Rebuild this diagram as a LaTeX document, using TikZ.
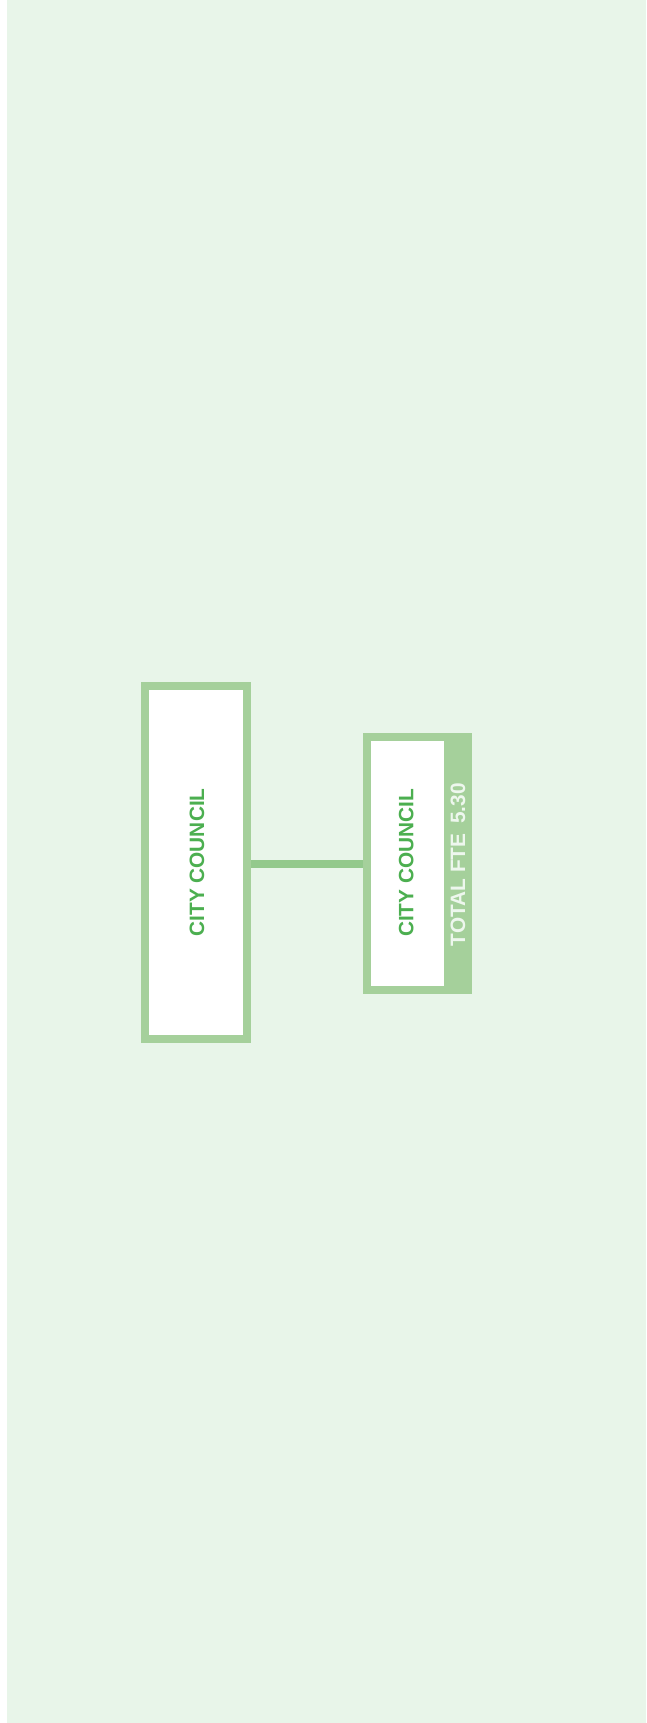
\documentclass[tikz,border=0pt]{standalone}
\usepackage{fontspec}
\setmainfont{Liberation Sans}
\definecolor{bgc}{HTML}{E8F5E9}
\definecolor{bord}{HTML}{A5D09B}
\definecolor{conn}{HTML}{93C98C}
\definecolor{txt}{HTML}{4CAF50}
\definecolor{fte}{HTML}{EEF7EE}
\begin{document}
\begin{tikzpicture}[x=1pt,y=-1pt,
  orgbox/.style={draw=bord,line width=8pt,fill=white,inner sep=0pt,rotate=90},
  lbl/.style={text=txt,font=\fontsize{20.8}{24}\selectfont\bfseries,rotate=90,inner sep=0pt},
  ftelbl/.style={text=fte,font=\fontsize{20.8}{24}\selectfont\bfseries,rotate=90,inner sep=0pt},
  link/.style={draw=conn,line width=7.7pt}]
\useasboundingbox (0,0) rectangle (646,1723);
\fill[white] (0,0) rectangle (646,1723);
\fill[bgc] (7,0) rectangle (646,1723);
% box 1
\node[orgbox,minimum width=352.7pt,minimum height=101.7pt] (b1) at (195.8,862.4) {};
\node[lbl] (t1) at (197,862.4) {CITY COUNCIL};
% box 2
\node[orgbox,minimum width=252.7pt,minimum height=101.7pt] (b2) at (417.5,863.7) {};
\fill[bord] (444,737) rectangle (468.3,990.3);
\node[lbl] (t2) at (406.2,863) {CITY COUNCIL};
\node[ftelbl] (t3) at (458,864.7) {TOTAL FTE\hspace{0.2em} 5.30};
% connector
\draw[link] (b2.north |- 0,864) coordinate (c2) -- (b1.south |- 0,864) coordinate (c1);
\end{tikzpicture}
\end{document}
